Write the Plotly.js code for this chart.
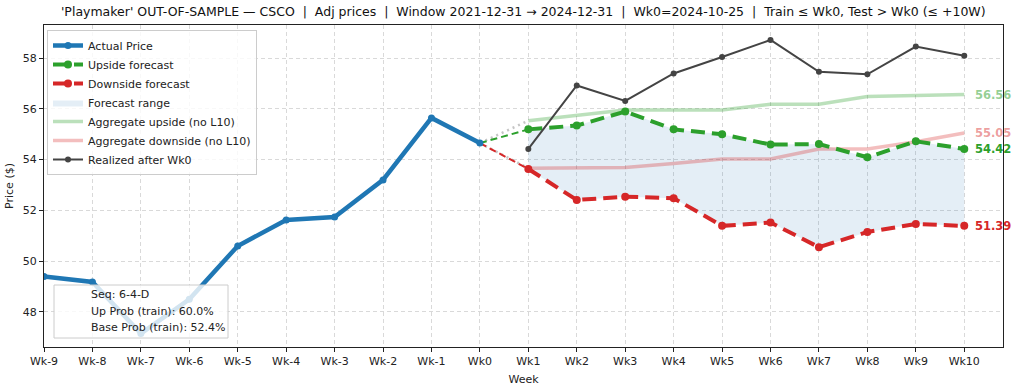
<!DOCTYPE html>
<html><head><meta charset="utf-8">
<script src="https://cdn.plot.ly/plotly-3.0.1.min.js"></script>
<style>html,body{margin:0;padding:0;background:#fff}#chart{width:1024px;height:389px}</style>
</head><body><div id="chart"></div>
<script>
// ---- data ----
const weeks = [-9,-8,-7,-6,-5,-4,-3,-2,-1,0,1,2,3,4,5,6,7,8,9,10];
const weekLabels = ['Wk-9','Wk-8','Wk-7','Wk-6','Wk-5','Wk-4','Wk-3','Wk-2','Wk-1','Wk0','Wk1','Wk2','Wk3','Wk4','Wk5','Wk6','Wk7','Wk8','Wk9','Wk10'];
const actualWeeks = [-9,-8,-7,-6,-5,-4,-3,-2,-1,0];
const actualPrice = [49.40,49.18,47.15,48.50,50.60,51.62,51.74,53.20,55.64,54.65];
const fcWeeks = [1,2,3,4,5,6,7,8,9,10];
const upsideFc   = [55.19,55.34,55.89,55.19,55.00,54.59,54.61,54.09,54.72,54.42];
const downsideFc = [53.63,52.41,52.54,52.48,51.39,51.52,50.55,51.15,51.46,51.39];
const aggUpside   = [55.53,55.73,55.95,55.95,55.95,56.18,56.18,56.48,56.52,56.56];
const aggDownside = [53.66,53.66,53.69,53.85,54.02,54.02,54.42,54.42,54.70,55.05];
const realized    = [54.42,56.92,56.31,57.39,58.04,58.71,57.46,57.36,58.45,58.09];
const infoLines = ['Seq: 6-4-D','Up Prob (train): 60.0%','Base Prob (train): 52.4%'];
const titleText = "'Playmaker' OUT-OF-SAMPLE — CSCO  |  Adj prices  |  Window 2021-12-31 → 2024-12-31  |  Wk0=2024-10-25  |  Train ≤ Wk0, Test > Wk0 (≤ +10W)";

const BLUE='#1f77b4', GREEN='#2ca02c', RED='#d62728', DARK='#444444';
const LGREEN='rgba(44,160,44,0.32)', LRED='rgba(214,39,40,0.30)';
const wk0 = actualWeeks[actualWeeks.length-1];
const p0 = actualPrice[actualPrice.length-1];
const last = a => a[a.length-1];
const lastW = last(fcWeeks);

const traces = [
  {x: fcWeeks, y: downsideFc, mode:'lines', line:{width:0, color:'rgba(0,0,0,0)'}, showlegend:false, hoverinfo:'skip'},
  {x: fcWeeks, y: upsideFc, mode:'lines', line:{width:0, color:'rgba(0,0,0,0)'}, fill:'tonexty', fillcolor:'rgba(31,119,180,0.12)', name:'Forecast range', legendrank:4},
  {x: fcWeeks, y: aggUpside, mode:'lines', line:{color:LGREEN, width:3.5}, name:'Aggregate upside (no L10)', legendrank:5},
  {x: fcWeeks, y: aggDownside, mode:'lines', line:{color:LRED, width:3.5}, name:'Aggregate downside (no L10)', legendrank:6},
  {x: [wk0, fcWeeks[0]], y: [p0, aggUpside[0]], mode:'lines', line:{color:'rgba(150,150,150,0.55)', width:2.5, dash:'2px,4px'}, showlegend:false, hoverinfo:'skip'},
  {x: [wk0, fcWeeks[0]], y: [p0, aggDownside[0]], mode:'lines', line:{color:'rgba(150,150,150,0.55)', width:2.5, dash:'2px,4px'}, showlegend:false, hoverinfo:'skip'},
  {x: [wk0, fcWeeks[0]], y: [p0, upsideFc[0]], mode:'lines', line:{color:GREEN, width:2, dash:'7px,4px'}, showlegend:false, hoverinfo:'skip'},
  {x: [wk0, fcWeeks[0]], y: [p0, downsideFc[0]], mode:'lines', line:{color:RED, width:2, dash:'7px,4px'}, showlegend:false, hoverinfo:'skip'},
  {x: actualWeeks, y: actualPrice, mode:'lines+markers', line:{color:BLUE, width:4.5}, marker:{color:BLUE, size:7}, name:'Actual Price', legendrank:1},
  {x: fcWeeks, y: upsideFc, mode:'lines+markers', line:{color:GREEN, width:4, dash:'14px,7px'}, marker:{color:GREEN, size:8}, name:'Upside forecast', legendrank:2},
  {x: fcWeeks, y: downsideFc, mode:'lines+markers', line:{color:RED, width:4, dash:'14px,7px'}, marker:{color:RED, size:8}, name:'Downside forecast', legendrank:3},
  {x: fcWeeks, y: realized, mode:'lines+markers', line:{color:DARK, width:2}, marker:{color:DARK, size:6}, name:'Realized after Wk0', legendrank:7}
];

const endLabels = [
  {v:last(aggUpside), c:'rgba(44,160,44,0.5)'},
  {v:last(aggDownside), c:'rgba(214,39,40,0.45)'},
  {v:last(upsideFc), c:GREEN},
  {v:last(downsideFc), c:RED}
];
const annotations = endLabels.map(e => ({
  x: lastW, y: e.v, xref:'x', yref:'y', text: e.v.toFixed(2), showarrow:false,
  xanchor:'left', yanchor:'middle', xshift:9, font:{color:e.c, size:11.5, weight:'bold', family:'DejaVu Sans'}
}));
const infoY = [294, 311, 327.5];
infoLines.forEach((t, i) => annotations.push({
  xref:'paper', yref:'paper', x:(89-44)/959, y:(347-infoY[i])/322, xanchor:'left', yanchor:'middle',
  text: t, align:'left', showarrow:false, font:{size:11, color:'#222', family:'DejaVu Sans'}
}));

const layout = {
  width:1024, height:389,
  margin:{l:44, r:21, t:25, b:42},
  paper_bgcolor:'#fff', plot_bgcolor:'#fff',
  font:{family:'DejaVu Sans', size:11, color:'#222'},
  title:{text:titleText, x:0.511, xanchor:'center', y:1-12/389, yanchor:'middle', yref:'container', font:{size:12.5, color:'#111'}},
  xaxis:{range:[-9, 10.8], tickvals:weeks, ticktext:weekLabels, showgrid:true, gridcolor:'#cfcfcf', griddash:'4px,3px', gridwidth:0.8,
         zeroline:false, showline:true, linecolor:'#222', linewidth:1, mirror:true, ticks:'outside', ticklen:4, tickcolor:'#222',
         title:{text:'Week', font:{size:11}, standoff:8}},
  yaxis:{range:[46.62, 59.3], tickvals:[48,50,52,54,56,58], showgrid:true, gridcolor:'#cfcfcf', griddash:'4px,3px', gridwidth:0.8,
         zeroline:false, showline:true, linecolor:'#222', linewidth:1, mirror:true, ticks:'outside', ticklen:4, tickcolor:'#222',
         title:{text:'Price ($)', font:{size:11}, standoff:6}},
  legend:{x:(47-44)/959, y:1-(30-25)/322, xanchor:'left', yanchor:'top', bgcolor:'rgba(255,255,255,0.8)', bordercolor:'#cccccc', borderwidth:1,
          font:{size:11}, itemwidth:30, tracegroupgap:0, traceorder:'normal'},
  shapes:[{type:'rect', xref:'paper', yref:'paper', x0:(54-44)/959, x1:(228-44)/959, y0:(347-338)/322, y1:(347-285)/322,
           fillcolor:'rgba(255,255,255,0.8)', line:{color:'#cccccc', width:1}, layer:'above'}],
  annotations: annotations,
  showlegend:true
};
Plotly.newPlot('chart', traces, layout, {displayModeBar:false, staticPlot:true});
</script></body></html>
